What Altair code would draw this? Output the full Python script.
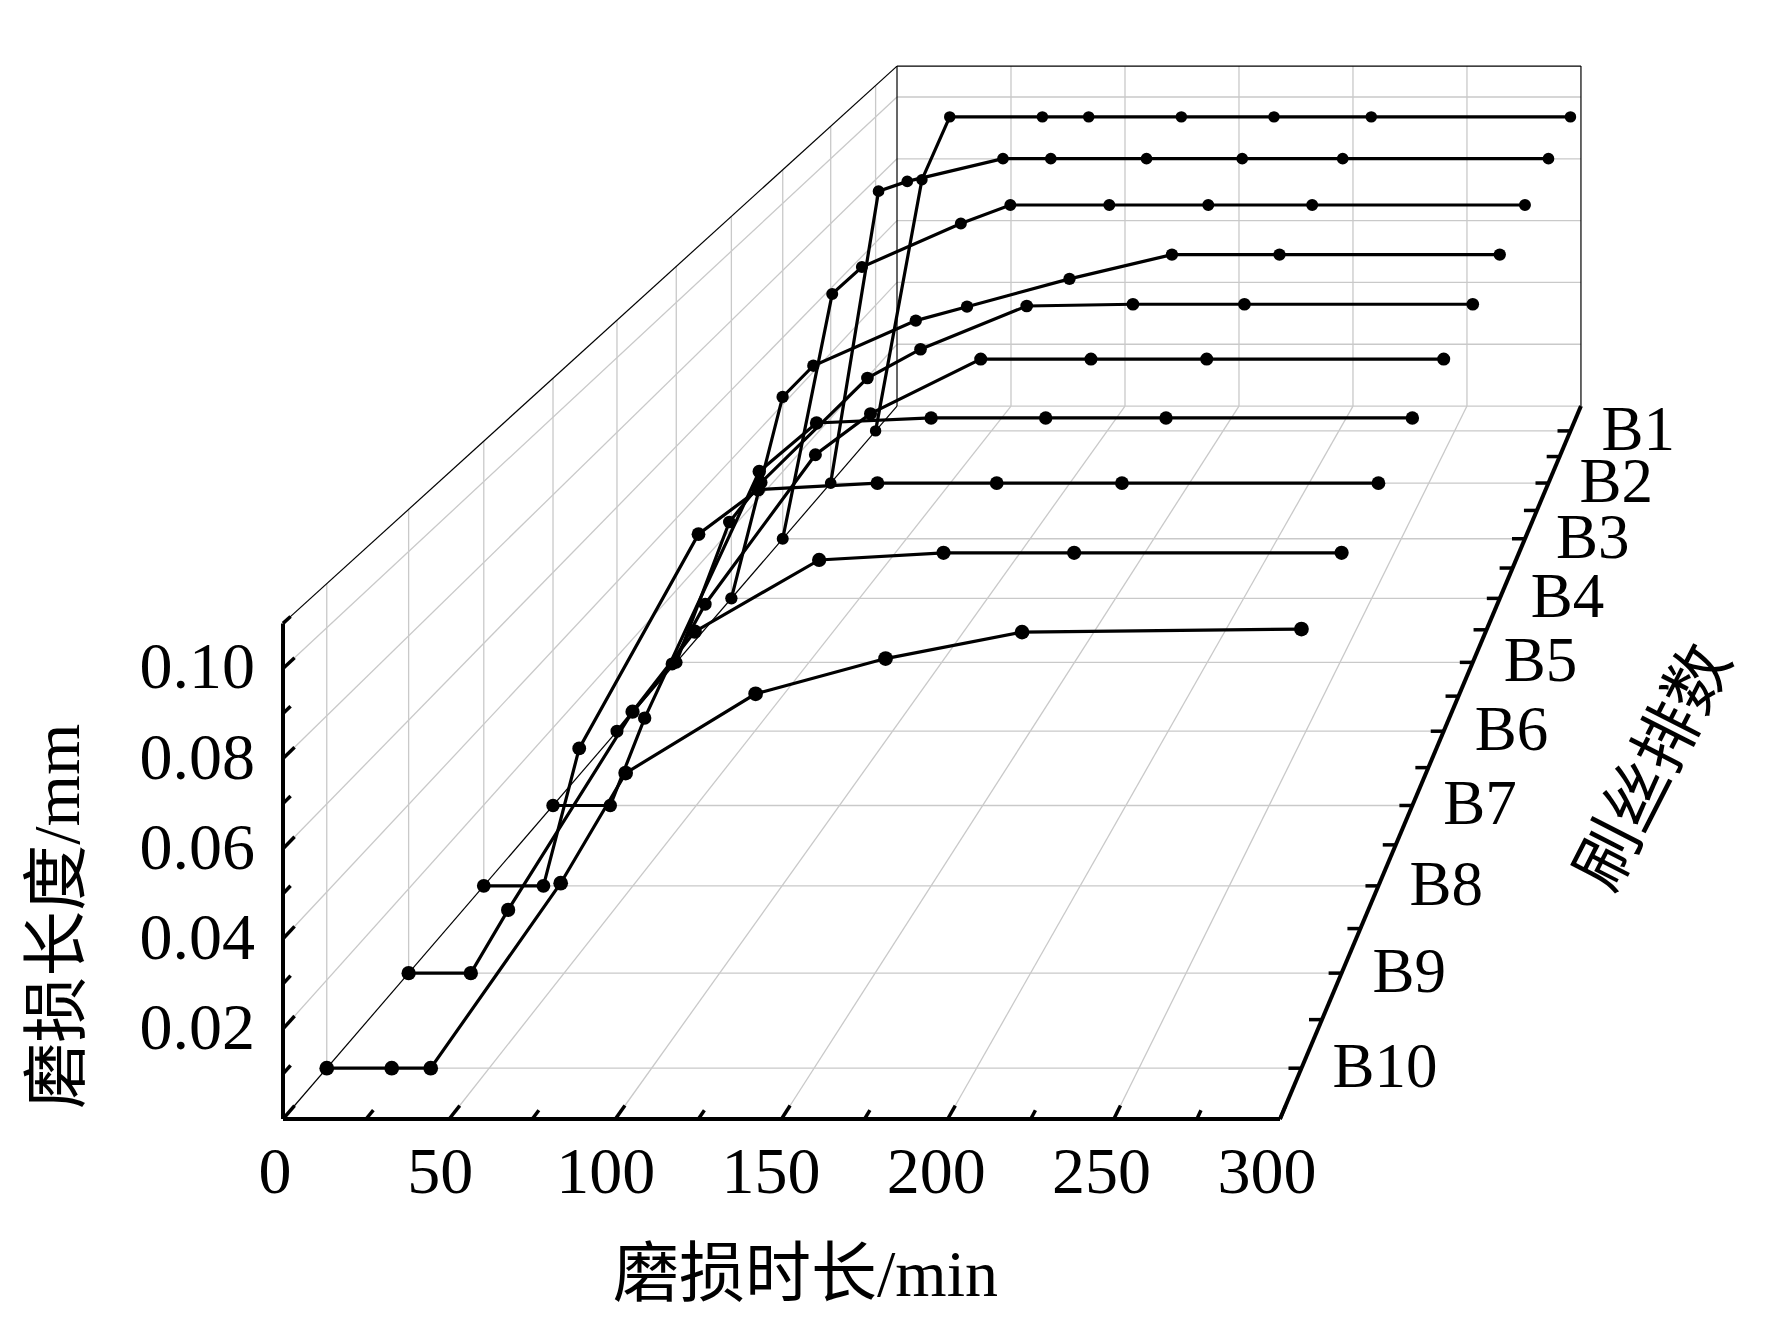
import altair as alt
import pandas as pd

# ---------------- data ----------------
rows = ["B1", "B2", "B3", "B4", "B5", "B6", "B7", "B8", "B9", "B10"]
times = [0, 20, 32, 72, 92, 132, 172, 214, 300]
wear_B1 = [0, 0.080, 0.100, 0.100, 0.100, 0.100, 0.100, 0.100, 0.100]
wear_B2 = [0, 0.090, 0.093, 0.100, 0.100, 0.100, 0.100, 0.100, 0.100]
wear_B3 = [0, 0.073, 0.081, 0.094, 0.0995, 0.0995, 0.0995, 0.0995, 0.0995]
wear_B4 = [0, 0.058, 0.067, 0.080, 0.084, 0.092, 0.099, 0.099, 0.099]
wear_B5 = [0, 0.039, 0.050, 0.079, 0.087, 0.099, 0.0995, 0.0995, 0.0995]
wear_B6 = [0, 0.018, 0.034, 0.074, 0.085, 0.0996, 0.0996, 0.0996, 0.0996]
wear_B7 = [0, 0, 0.0225, 0.086, 0.0985, 0.0998, 0.0998, 0.0998, 0.0998]
wear_B8 = [0, 0, 0.034, 0.087, 0.098, 0.0996, 0.0996, 0.0996, 0.0996]
wear_B9 = [0, 0, 0.015, 0.062, 0.081, 0.098, 0.0997, 0.0997, 0.0997]
wear_B10 = [0, 0, 0, 0.042, 0.067, 0.085, 0.093, 0.099, 0.0997]

x_labels = [0, 50, 100, 150, 200, 250, 300]
x_minor = [25, 75, 125, 175, 225, 275]
y_labels = [0.02, 0.04, 0.06, 0.08, 0.10]
y_minor = [0.01, 0.03, 0.05, 0.07, 0.09, 0.11]
time_grid = [50, 100, 150, 200, 250]
wear_grid = [0.02, 0.04, 0.06, 0.08, 0.10]

x_title = "磨损时长/min"
y_title = "磨损长度/mm"
z_title = "刷丝排数"

# ---------------- perspective projection (done by Vega expressions) ----------------
W, H = 1756, 1306
K = 0.4577                      # depth foreshortening
VX, VY = 2230.5, -1159.6        # vanishing point
X0, X1, YB = 275.0, 1272.0, 1111.0
HF = 495.6                      # front height of full wear range
TMAX, WMAX = 300.0, 0.11
FONT = "Liberation Serif, Noto Sans CJK SC"

all_series = [wear_B1, wear_B2, wear_B3, wear_B4, wear_B5,
              wear_B6, wear_B7, wear_B8, wear_B9, wear_B10]
d_rows = [1 - (i + 0.5) / 10 for i in range(len(rows))]
d_half = [i / 10 for i in range(1, 10)]


def s_expr(d):
    return f"(1/(1+{K}*({d})))"


def px(t, d):
    return f"({VX}+{s_expr(d)}*(({X0}+({t})*{(X1 - X0) / TMAX})-{VX}))"


def py(w, d):
    return f"({VY}+{s_expr(d)}*(({YB}-({w})*{HF / WMAX})-({VY})))"


xs = alt.Scale(domain=[0, W], nice=False, zero=False)
ys = alt.Scale(domain=[0, H], reverse=True, nice=False, zero=False)


def enc_xy(fx, fy):
    return dict(x=alt.X(f"{fx}:Q", scale=xs, axis=None),
                y=alt.Y(f"{fy}:Q", scale=ys, axis=None))


def segments(records, color, width):
    df = pd.DataFrame(records, columns=["t1", "w1", "d1", "t2", "w2", "d2"])
    return (alt.Chart(df)
            .transform_calculate(xa=px("datum.t1", "datum.d1"), ya=py("datum.w1", "datum.d1"),
                                 xb=px("datum.t2", "datum.d2"), yb=py("datum.w2", "datum.d2"))
            .mark_rule(color=color, strokeWidth=width)
            .encode(**enc_xy("xa", "ya"), x2="xb:Q", y2="yb:Q"))


# grid lines
grid = []
for t in time_grid:
    grid.append((t, 0, 1, t, WMAX, 1))     # back wall
    grid.append((t, 0, 0, t, 0, 1))        # floor
for w in wear_grid:
    grid.append((0, w, 1, TMAX, w, 1))     # back wall
    grid.append((0, w, 0, 0, w, 1))        # left wall
for d in d_rows:
    grid.append((0, 0, d, 0, WMAX, d))     # left wall
    grid.append((0, 0, d, TMAX, 0, d))     # floor
grid.append((0, 0, 1, TMAX, 0, 1))

frame = [(0, 0, 0, 0, 0, 1), (0, WMAX, 0, 0, WMAX, 1), (0, 0, 1, 0, WMAX, 1),
         (0, WMAX, 1, TMAX, WMAX, 1), (TMAX, 0, 1, TMAX, WMAX, 1)]
axes = [(0, 0, 0, TMAX, 0, 0), (0, 0, 0, 0, WMAX, 0), (TMAX, 0, 0, TMAX, 0, 1)]

ticks = []
for t in x_labels:
    ticks.append((t, 0, 0, t, 0, 0.013))
for t in x_minor:
    ticks.append((t, 0, 0, t, 0, 0.0085))
for w in y_labels:
    ticks.append((0, w, 0, 0, w, 0.013))
for w in y_minor:
    ticks.append((0, w, 0, 0, w, 0.0085))
for d in d_rows + d_half:
    ticks.append((TMAX, 0, d, TMAX - 3.9 * (1 + K * d), 0, d))

grid_c = segments(grid, "#c9c9c9", 1.3)
frame_c = segments(frame, "black", 1.2)
axes_c = segments(axes, "black", 4)
ticks_c = segments(ticks, "black", 3.5)

# data
pts = pd.DataFrame([{"row": r, "t": t, "w": w, "d": d}
                    for r, d, series in zip(rows, d_rows, all_series)
                    for t, w in zip(times, series)])
base = alt.Chart(pts).transform_calculate(
    sx=px("datum.t", "datum.d"), sy=py("datum.w", "datum.d"),
    sz=f"225*pow({s_expr('datum.d')},1.5)")
lines_c = base.mark_line(color="black", strokeWidth=3.2).encode(
    **enc_xy("sx", "sy"), detail="row:N", order="t:Q")
points_c = base.mark_circle(color="black", opacity=1).encode(
    **enc_xy("sx", "sy"), size=alt.Size("sz:Q", scale=None, legend=None))

# tick labels
xl = (alt.Chart(pd.DataFrame({"t": x_labels, "label": [str(v) for v in x_labels]}))
      .transform_calculate(sx=px("datum.t", "0") + "-8-0.017*datum.t", sy=py("0", "0"))
      .mark_text(font=FONT, fontSize=66, align="center", baseline="alphabetic", dy=74, color="black")
      .encode(**enc_xy("sx", "sy"), text="label:N"))
yl = (alt.Chart(pd.DataFrame({"w": y_labels, "label": [f"{v:.2f}" for v in y_labels]}))
      .transform_calculate(sx=px("0", "0"), sy=py("datum.w", "0"))
      .mark_text(font=FONT, fontSize=66, align="right", baseline="middle", dx=-28, color="black")
      .encode(**enc_xy("sx", "sy"), text="label:N"))
zl = (alt.Chart(pd.DataFrame({"d": d_rows, "label": rows}))
      .transform_calculate(sx=px(str(TMAX), "datum.d"), sy=py("0", "datum.d"))
      .mark_text(font=FONT, fontSize=63, align="left", baseline="middle", dx=31, color="black")
      .encode(**enc_xy("sx", "sy"), text="label:N"))

# axis titles
xt = (alt.Chart(pd.DataFrame({"t": [150], "label": [x_title]}))
      .transform_calculate(sx=px("datum.t", "0"), sy=py("0", "0"))
      .mark_text(font=FONT, fontSize=66, align="center", baseline="alphabetic", dx=24, dy=177, color="black")
      .encode(**enc_xy("sx", "sy"), text="label:N"))
yt = (alt.Chart(pd.DataFrame({"w": [0.045], "label": [y_title]}))
      .transform_calculate(sx=px("0", "0") + "-224", sy=py("datum.w", "0"))
      .mark_text(font=FONT, fontSize=66, align="center", baseline="middle", angle=270, color="black")
      .encode(**enc_xy("sx", "sy"), text="label:N"))
zt = (alt.Chart(pd.DataFrame({"d": [0.5], "label": [z_title]}))
      .transform_calculate(sx=px(str(TMAX), "datum.d") + "+196.5", sy=py("0", "datum.d") + "+71.8")
      .mark_text(font=FONT, fontSize=66, align="center", baseline="middle", angle=297, color="black")
      .encode(**enc_xy("sx", "sy"), text="label:N"))

chart = (alt.layer(grid_c, frame_c, axes_c, ticks_c, lines_c, points_c, xl, yl, zl, xt, yt, zt)
         .properties(width=W, height=H, autosize=alt.AutoSizeParams(type="none"), padding=0,
                     background="white")
         .configure_view(stroke=None))

chart.save("out.html", embed_options={"renderer": "svg", "actions": False})
